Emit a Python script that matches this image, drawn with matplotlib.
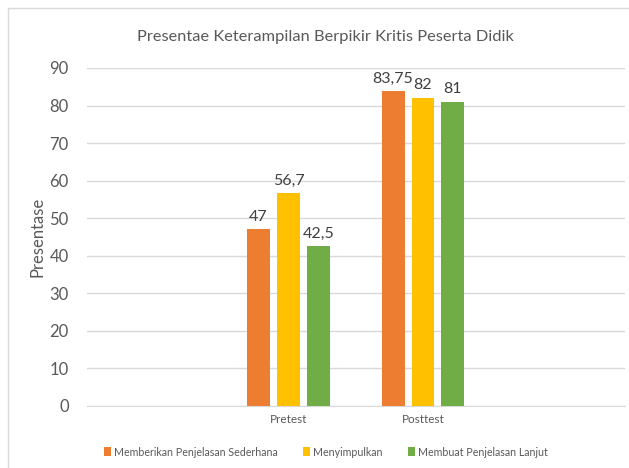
import numpy as np
import matplotlib.pyplot as plt
from matplotlib.patches import Rectangle

categories = ['', 'Pretest', 'Posttest', '']
series = ['Memberikan Penjelasan Sederhana', 'Menyimpulkan', 'Membuat Penjelasan Lanjut']
values = [
    [np.nan, 47, 83.75, np.nan],
    [np.nan, 56.7, 82, np.nan],
    [np.nan, 42.5, 81, np.nan],
]
labels = [
    ['', '47', '83,75', ''],
    ['', '56,7', '82', ''],
    ['', '42,5', '81', ''],
]
colors = ['#ED7D31', '#FFC000', '#70AD47']

plt.rcParams['font.family'] = ['Lato', 'DejaVu Sans']

fig = plt.figure(figsize=(6.29, 4.68), dpi=100)
ax = fig.add_axes([86.75 / 629, 1 - 406 / 468, 538 / 629, 338 / 468])

x = np.arange(len(categories))
width = 0.171
step = 0.223
for i, (name, vals, col) in enumerate(zip(series, values, colors)):
    pos = x + (i - 1) * step
    bars = ax.bar(pos, vals, width, color=col, label=name, zorder=3)
    for b, v, lab in zip(bars, vals, labels[i]):
        if lab:
            ax.text(b.get_x() + b.get_width() / 2, v + 1.5, lab, ha='center', va='bottom',
                    fontsize=11.5, color='#404040')

ax.set_xlim(-0.5, len(categories) - 0.5)
ax.set_ylim(0, 90)
ax.set_yticks(range(0, 91, 10))
ax.set_xticks(x)
ax.set_xticklabels(categories, fontsize=8.5, color='#595959')
ax.tick_params(axis='y', labelsize=12, labelcolor='#595959', length=0, pad=13)
ax.tick_params(axis='x', length=0, pad=6)
ax.grid(axis='y', color='#D9D9D9', linewidth=1, zorder=0)
for s in ['top', 'right', 'left']:
    ax.spines[s].set_visible(False)
ax.spines['bottom'].set_color('#D9D9D9')
ax.set_ylabel('Presentase', fontsize=12, color='#595959')
ax.yaxis.set_label_coords((37 - 86.75) / 538, 0.5)
ax.yaxis.label.set_va('center')

fig.text(325 / 629, 1 - 37 / 468, 'Presentae Keterampilan Berpikir Kritis Peserta Didik',
         ha='center', va='center', fontsize=11.8, color='#595959')

fig.legend(loc='center', bbox_to_anchor=(326 / 629, 1 - 452 / 468), ncol=3, frameon=False,
           fontsize=7.7, handlelength=0.6, handleheight=0.9, handletextpad=0.3,
           columnspacing=2.4, labelcolor='#595959')

fig.patches.append(Rectangle((8 / 629, -0.1), 1.2, 1 - 8 / 468 + 0.1, transform=fig.transFigure,
                             fill=False, edgecolor='#D9D9D9', linewidth=1))

fig.savefig('out.png', dpi=100)
